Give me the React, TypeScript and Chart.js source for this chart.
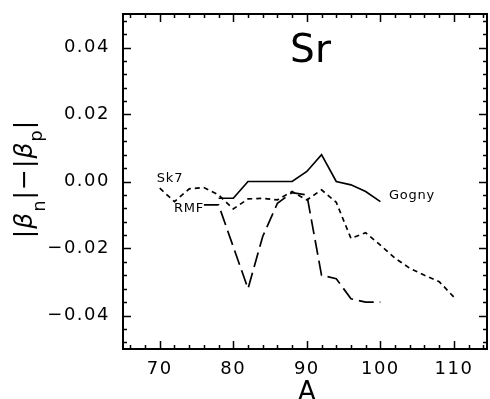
import React, { useEffect, useRef } from "react";
import { Chart, registerables } from "chart.js";

Chart.register(...registerables);

// ---- data ----
const gognyA = [78, 80, 82, 84, 86, 88, 90, 92, 94, 96, 98, 100];
const gognyDiff = [-0.005, -0.005, 0.0, 0.0, 0.0, 0.0, 0.003, 0.008, 0.0, -0.001, -0.003, -0.006];

const sk7A = [70, 72, 74, 76, 78, 80, 82, 84, 86, 88, 90, 92, 94, 96, 98, 100, 102, 104, 106, 108, 110];
const sk7Diff = [-0.002, -0.006, -0.0022, -0.0018, -0.004, -0.0082, -0.0052, -0.005, -0.0055, -0.003, -0.0055, -0.0025, -0.0062, -0.017, -0.0153, -0.019, -0.0229, -0.0259, -0.028, -0.0299, -0.0345];

const rmfA = [76, 78, 80, 82, 84, 86, 88, 90, 92, 94, 96, 98, 100];
const rmfDiff = [-0.007, -0.007, -0.0195, -0.032, -0.0164, -0.0065, -0.0033, -0.004, -0.028, -0.029, -0.035, -0.036, -0.036];

const xTickLabels = [70, 80, 90, 100, 110];
const yTickLabels = [-0.04, -0.02, 0.0, 0.02, 0.04];

const titleText = "Sr";
const xTitle = "A";

const FONT = "'DejaVu Sans', sans-serif";

function pts(xs: number[], ys: number[]) {
  return xs.map((x, i) => ({ x, y: ys[i] }));
}

const framePlugin = {
  id: "framePlugin",
  beforeDraw(chart: any) {
    chart.ctx.letterSpacing = "1.5px";
  },
  afterDraw(chart: any) {
    const ctx = chart.ctx as CanvasRenderingContext2D & { letterSpacing?: string };
    const { left, right, top, bottom } = chart.chartArea;
    const xs = chart.scales.x;
    const ys = chart.scales.y;
    ctx.save();
    ctx.strokeStyle = "#000";
    ctx.fillStyle = "#000";
    ctx.setLineDash([]);
    // frame
    ctx.lineWidth = 2;
    ctx.strokeRect(left, top, right - left, bottom - top);
    // x ticks (inward, bottom and top)
    ctx.lineWidth = 1.5;
    for (let v = 66; v <= 114; v += 2) {
      const px = Math.round(xs.getPixelForValue(v)) + 0.5;
      const len = v % 10 === 0 ? 8 : 4;
      ctx.beginPath();
      ctx.moveTo(px, bottom);
      ctx.lineTo(px, bottom - len);
      ctx.moveTo(px, top);
      ctx.lineTo(px, top + len);
      ctx.stroke();
    }
    // y ticks (inward, left and right)
    for (let k = -12; k <= 12; k++) {
      const v = k * 0.004;
      const py = Math.round(ys.getPixelForValue(v)) + 0.5;
      const len = k % 5 === 0 ? 8 : 4;
      ctx.beginPath();
      ctx.moveTo(left, py);
      ctx.lineTo(left + len, py);
      ctx.moveTo(right, py);
      ctx.lineTo(right - len, py);
      ctx.stroke();
    }

    // title
    ctx.letterSpacing = "0px";
    ctx.textAlign = "center";
    ctx.textBaseline = "alphabetic";
    ctx.font = `39px ${FONT}`;
    ctx.fillText(titleText, xs.getPixelForValue(90.5), 62);

    // x-axis title
    ctx.font = `26px ${FONT}`;
    ctx.fillText(xTitle, xs.getPixelForValue(90), 400);

    // curve labels
    ctx.font = `13px ${FONT}`;
    ctx.letterSpacing = "0.8px";
    ctx.textBaseline = "middle";
    ctx.fillText("Sk7", 170, 179);
    ctx.fillText("RMF", 189, 209);
    ctx.fillText("Gogny", 412, 196);

    // y-axis title |β_n|−|β_p| rotated
    ctx.letterSpacing = "0px";
    const parts: { t: string; f: string; dy: number }[] = [
      { t: "|", f: `25px ${FONT}`, dy: 0 },
      { t: "β", f: `italic 25px ${FONT}`, dy: 0 },
      { t: "n", f: `18px ${FONT}`, dy: 13 },
      { t: "|", f: `25px ${FONT}`, dy: 0 },
      { t: "−", f: `25px ${FONT}`, dy: 0 },
      { t: "|", f: `25px ${FONT}`, dy: 0 },
      { t: "β", f: `italic 25px ${FONT}`, dy: 0 },
      { t: "p", f: `18px ${FONT}`, dy: 10 },
      { t: "|", f: `25px ${FONT}`, dy: 0 },
    ];
    let total = 0;
    const widths = parts.map((p) => {
      ctx.font = p.f;
      const w = ctx.measureText(p.t).width + 1;
      total += w;
      return w;
    });
    ctx.translate(32, 179);
    ctx.rotate(-Math.PI / 2);
    ctx.textAlign = "left";
    ctx.textBaseline = "alphabetic";
    let cx = -total / 2;
    parts.forEach((p, i) => {
      ctx.font = p.f;
      ctx.fillText(p.t, cx, p.dy);
      cx += widths[i];
    });
    ctx.restore();
  },
};

export default function App() {
  const ref = useRef<HTMLCanvasElement | null>(null);

  useEffect(() => {
    document.body.style.margin = "0";
    if (!ref.current) return;
    const chart = new Chart(ref.current, {
      type: "line",
      data: {
        datasets: [
          {
            label: "Gogny",
            data: pts(gognyA, gognyDiff),
            borderColor: "#000",
            borderWidth: 1.7,
            pointRadius: 0,
            fill: false,
            tension: 0,
          },
          {
            label: "Sk7",
            data: pts(sk7A, sk7Diff),
            borderColor: "#000",
            borderWidth: 1.7,
            borderDash: [5, 4],
            pointRadius: 0,
            fill: false,
            tension: 0,
          },
          {
            label: "RMF",
            data: pts(rmfA, rmfDiff),
            borderColor: "#000",
            borderWidth: 1.7,
            borderDash: [15, 6],
            pointRadius: 0,
            fill: false,
            tension: 0,
          },
        ],
      },
      options: {
        animation: false,
        responsive: false,
        devicePixelRatio: 1,
        layout: { padding: { top: 14, right: 3, left: 0, bottom: 0 } },
        plugins: {
          legend: { display: false },
          tooltip: { enabled: false },
          title: { display: false },
        },
        scales: {
          x: {
            type: "linear",
            min: 65,
            max: 114.5,
            grid: { display: false, drawTicks: false },
            border: { display: false },
            afterBuildTicks: (s: any) => {
              s.ticks = xTickLabels.map((v) => ({ value: v }));
            },
            afterFit: (s: any) => {
              s.height = 50;
              s.paddingLeft = 0;
              s.paddingRight = 0;
            },
            ticks: {
              font: { family: FONT, size: 18 },
              color: "#000",
              padding: 10,
              maxRotation: 0,
              autoSkip: false,
              callback: (v: any) => String(v),
            },
          },
          y: {
            type: "linear",
            min: -0.05,
            max: 0.05,
            grid: { display: false, drawTicks: false },
            border: { display: false },
            afterBuildTicks: (s: any) => {
              s.ticks = yTickLabels.map((v) => ({ value: v }));
            },
            afterFit: (s: any) => {
              s.width = 123;
              s.paddingTop = 0;
              s.paddingBottom = 0;
            },
            ticks: {
              font: { family: FONT, size: 18 },
              color: "#000",
              padding: 13,
              autoSkip: false,
              callback: (v: any) => Number(v).toFixed(2).replace("-", "−"),
            },
          },
        },
      },
      plugins: [framePlugin],
    } as any);
    return () => chart.destroy();
  }, []);

  return (
    <div style={{ position: "fixed", left: 0, top: 0, width: 490, height: 399, background: "#fff" }}>
      <canvas ref={ref} width={490} height={399} style={{ width: 490, height: 399, display: "block" }} />
    </div>
  );
}
